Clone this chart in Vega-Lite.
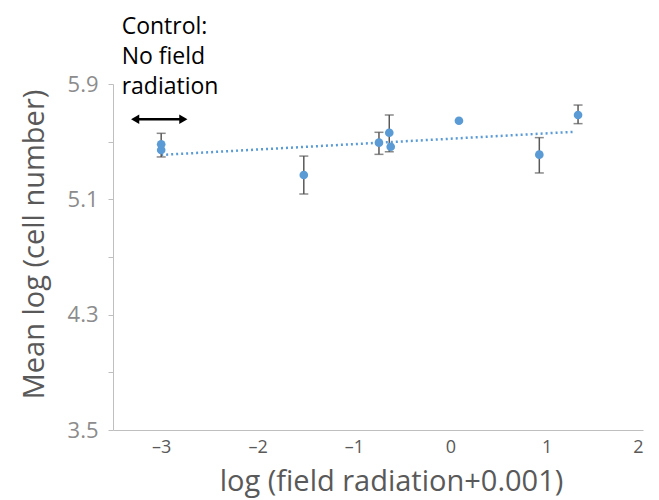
{
  "$schema": "https://vega.github.io/schema/vega-lite/v6.json",
  "width": 530,
  "height": 346,
  "autosize": {"type": "none"},
  "padding": {"left": 113, "top": 84, "right": 16, "bottom": 70},
  "background": "white",
  "config": {
    "view": {"stroke": null},
    "font": "Open Sans",
    "axis": {"grid": false, "domainColor": "#BFBFBF", "tickColor": "#BFBFBF", "labelFont": "Open Sans", "titleFont": "Open Sans", "titleColor": "#595959", "titleFontWeight": "normal"}
  },
  "datasets": {
    "pts": [
      {"x": -3, "y": 5.482, "lo": 5.394, "hi": 5.558},
      {"x": -3, "y": 5.442, "lo": null, "hi": null},
      {"x": -1.52, "y": 5.269, "lo": 5.137, "hi": 5.40},
      {"x": -0.74, "y": 5.493, "lo": 5.412, "hi": 5.565},
      {"x": -0.633, "y": 5.562, "lo": 5.43, "hi": 5.685},
      {"x": -0.618, "y": 5.465, "lo": null, "hi": null},
      {"x": 0.09, "y": 5.645, "lo": null, "hi": null},
      {"x": 0.924, "y": 5.41, "lo": 5.283, "hi": 5.528},
      {"x": 1.326, "y": 5.685, "lo": 5.625, "hi": 5.754}
    ],
    "trend": [
      {"x": -3, "y": 5.408},
      {"x": 1.3, "y": 5.569}
    ],
    "arrow": [
      {"x": -3.27, "y": 5.655, "end": "left"},
      {"x": -2.77, "y": 5.655, "end": "right"}
    ],
    "note": [
      {"x": -3.41, "y": 6.37, "label": "Control:\nNo field\nradiation"}
    ]
  },
  "layer": [
    {
      "data": {"name": "trend"},
      "mark": {"type": "line", "color": "#5B9BD5", "strokeWidth": 2.5, "strokeDash": [2, 3]},
      "encoding": {
        "x": {"field": "x", "type": "quantitative", "scale": {"domain": [-3.5, 2], "nice": false, "zero": false},
          "axis": {"values": [-3, -2, -1, 0, 1, 2], "ticks": false, "labelFontSize": 18, "labelColor": "#595959", "labelPadding": 8, "title": "log (field radiation+0.001)", "titleFontSize": 29, "titlePadding": 11, "titleX": 278, "labelExpr": "datum.value < 0 ? '\u2013' + format(abs(datum.value), 'd') : format(datum.value, 'd')"}},
        "y": {"field": "y", "type": "quantitative", "scale": {"domain": [3.5, 5.9], "nice": false, "zero": false},
          "axis": {"values": [3.5, 3.9, 4.3, 4.7, 5.1, 5.5, 5.9], "tickSize": 5, "labelFontSize": 22, "labelColor": "#8C8C8C", "labelPadding": 10, "labelExpr": "(round(datum.value*10) - 35) % 8 == 0 ? format(datum.value, '.1f') : ''", "title": "Mean log (cell number)", "titleFontSize": 29, "titlePadding": 18, "titleY": 160}}
      }
    },
    {
      "data": {"name": "pts"},
      "transform": [{"filter": "datum.lo != null"}],
      "mark": {"type": "rule", "color": "#595959", "strokeWidth": 1.5},
      "encoding": {
        "x": {"field": "x", "type": "quantitative"},
        "y": {"field": "lo", "type": "quantitative"},
        "y2": {"field": "hi"}
      }
    },
    {
      "data": {"name": "pts"},
      "transform": [{"filter": "datum.lo != null"}, {"fold": ["lo", "hi"], "as": ["k", "v"]}],
      "mark": {"type": "tick", "orient": "horizontal", "color": "#595959", "size": 9, "thickness": 1.5},
      "encoding": {
        "x": {"field": "x", "type": "quantitative"},
        "y": {"field": "v", "type": "quantitative"}
      }
    },
    {
      "data": {"name": "pts"},
      "mark": {"type": "point", "shape": "circle", "filled": true, "color": "#5B9BD5", "opacity": 1, "size": 75},
      "encoding": {
        "x": {"field": "x", "type": "quantitative"},
        "y": {"field": "y", "type": "quantitative"}
      }
    },
    {
      "data": {"name": "arrow"},
      "mark": {"type": "line", "color": "black", "strokeWidth": 2.5},
      "encoding": {
        "x": {"field": "x", "type": "quantitative"},
        "y": {"field": "y", "type": "quantitative"}
      }
    },
    {
      "data": {"name": "arrow"},
      "mark": {"type": "point", "filled": true, "color": "black", "opacity": 1, "size": 90},
      "encoding": {
        "x": {"field": "x", "type": "quantitative"},
        "y": {"field": "y", "type": "quantitative"},
        "shape": {"field": "end", "type": "nominal", "scale": {"domain": ["left", "right"], "range": ["triangle-left", "triangle-right"]}, "legend": null}
      }
    },
    {
      "data": {"name": "note"},
      "mark": {"type": "text", "align": "left", "baseline": "top", "fontSize": 23, "lineBreak": "\n", "lineHeight": 30, "color": "black", "clip": false},
      "encoding": {
        "x": {"field": "x", "type": "quantitative"},
        "y": {"field": "y", "type": "quantitative"},
        "text": {"field": "label"}
      }
    }
  ]
}
